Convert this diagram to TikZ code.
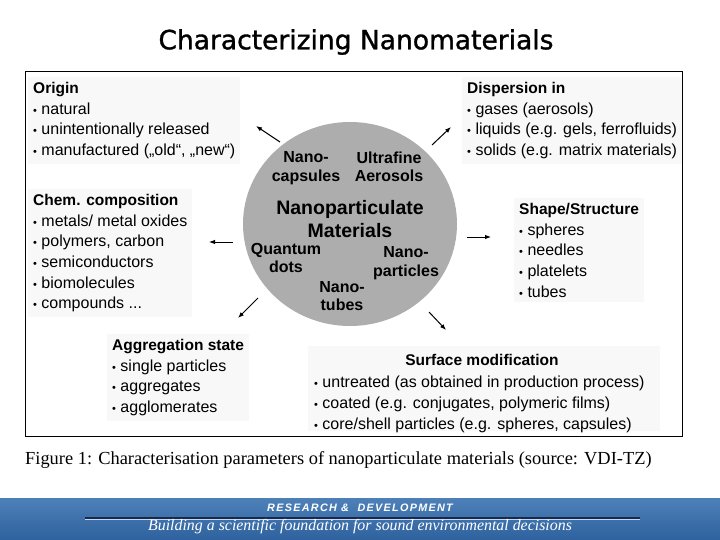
\documentclass[tikz,border=0pt]{standalone}
\usepackage{fontspec}
\setmainfont{Liberation Sans}
\newfontfamily\serifrm{Liberation Serif}
\newfontfamily\titlefont[FakeBold=1.2]{DejaVu Sans}
\usetikzlibrary{arrows.meta,shadings,shapes.geometric}
\definecolor{circgrey}{RGB}{173,173,173}
\definecolor{blockbg}{RGB}{248,248,248}
\definecolor{bandtop}{RGB}{78,128,184}
\definecolor{bandbot}{RGB}{46,98,158}
\definecolor{bandline}{RGB}{22,42,80}
\tikzset{
  block/.style={anchor=north west, align=left, inner xsep=5pt, inner ysep=5pt, fill=blockbg,
    font=\fontsize{16}{20.7}\selectfont},
  inlabel/.style={align=center, inner sep=0pt, font=\fontsize{16}{18.5}\selectfont\bfseries},
  ptr/.style={line width=1pt, -{Latex[length=6pt,width=4.5pt]}},
}
\newcommand{\bl}{{\fontsize{11}{10}\selectfont\textbullet}\ }
\newcommand{\hd}[1]{{\fontsize{15.5}{20.7}\selectfont\bfseries #1}}
\begin{document}
\begin{tikzpicture}[x=1pt,y=-1pt]
\useasboundingbox (0,0) rectangle (720,540);
\fill[white] (0,0) rectangle (720,540);
% title
\node[font=\titlefont\fontsize{26.5}{30}\selectfont] (title) at (356,42) {Characterizing Nanomaterials};
% frame
\draw[line width=1pt] (25,72) rectangle (682,436);
% central circle
\node[ellipse, minimum width=214pt, minimum height=204pt, fill=circgrey, inner sep=0pt] (circ) at (350,224) {};
\node[inlabel] (capsules) at (306,168) {Nano-\\capsules};
\node[inlabel] (aerosols) at (389,167) {Ultrafine\\Aerosols};
\node[align=center, inner sep=0pt, font=\fontsize{19.5}{23}\selectfont\bfseries] (npm) at (350,219) {Nanoparticulate\\Materials};
\node[inlabel] (qdots) at (286,258) {Quantum\\dots};
\node[inlabel] (nparticles) at (406,263) {Nano-\\particles};
\node[inlabel] (ntubes) at (342,296) {Nano-\\tubes};
% blocks
\node[block] (origin) at (28,77) {\hd{Origin}\\\bl natural\\\bl unintentionally released\\\bl manufactured („old“, „new“)};
\node[block] (chem) at (28,189) {\hd{Chem. composition}\\\bl metals/ metal oxides\\\bl polymers, carbon\\\bl semiconductors\\\bl biomolecules\\\bl compounds ...};
\node[block] (disp) at (462,77) {\hd{Dispersion in}\\\bl gases (aerosols)\\\bl liquids (e.g. gels, ferrofluids)\\\bl solids (e.g. matrix materials)};
\node[block] (shape) at (514,198) {\hd{Shape/Structure}\\\bl spheres\\\bl needles\\\bl platelets\\\bl tubes};
\node[block] (aggr) at (107,334) {\hd{Aggregation state}\\\bl single particles\\\bl aggregates\\\bl agglomerates};
\node[anchor=north west, fill=blockbg, minimum width=352pt, minimum height=85pt, inner sep=0pt] (surfbg) at (308,346) {};
\node[inner sep=0pt, font=\fontsize{15.5}{18}\selectfont\bfseries] (surfhd) at (482,360) {Surface modification};
\node[block, fill=none] (surf) at (309,371) {\bl untreated (as obtained in production process)\\\bl coated (e.g. conjugates, polymeric films)\\\bl core/shell particles (e.g. spheres, capsules)};
% arrows
\coordinate (a1s) at (280,142); \coordinate (a1e) at (256,126);
\coordinate (a2s) at (432,145); \coordinate (a2e) at (451,127);
\coordinate (a3s) at (233,242); \coordinate (a3e) at (209,242);
\coordinate (a4s) at (467,237); \coordinate (a4e) at (491,237);
\coordinate (a5s) at (258,298); \coordinate (a5e) at (238,318);
\coordinate (a6s) at (429,312); \coordinate (a6e) at (446,330);
\draw[ptr] (a1s) -- (a1e);
\draw[ptr] (a2s) -- (a2e);
\draw[ptr] (a3s) -- (a3e);
\draw[ptr] (a4s) -- (a4e);
\draw[ptr] (a5s) -- (a5e);
\draw[ptr] (a6s) -- (a6e);
% caption
\node[anchor=base west, inner sep=0pt, font=\serifrm\fontsize{18.4}{20}\selectfont] (caption) at (25,464) {Figure 1: Characterisation parameters of nanoparticulate materials (source: VDI-TZ)};
% banner
\shade[top color=bandtop, bottom color=bandbot] (0,498) rectangle (720,540);
\draw[bandline, line width=1.3pt] (85,518) -- (640,518);
\draw[white!70!bandtop, line width=0.6pt] (85,519.5) -- (640,519.5);
\node[text=white, inner sep=0pt, font=\fontsize{10.8}{12}\selectfont\bfseries\itshape\addfontfeature{LetterSpace=12}] (rd) at (360,508) {RESEARCH \&\ \ DEVELOPMENT};
\node[text=white, inner sep=0pt, anchor=base, font=\serifrm\fontsize{15.9}{18}\selectfont\itshape] (tag) at (360,530) {Building a scientific foundation for sound environmental decisions};
\end{tikzpicture}
\end{document}
